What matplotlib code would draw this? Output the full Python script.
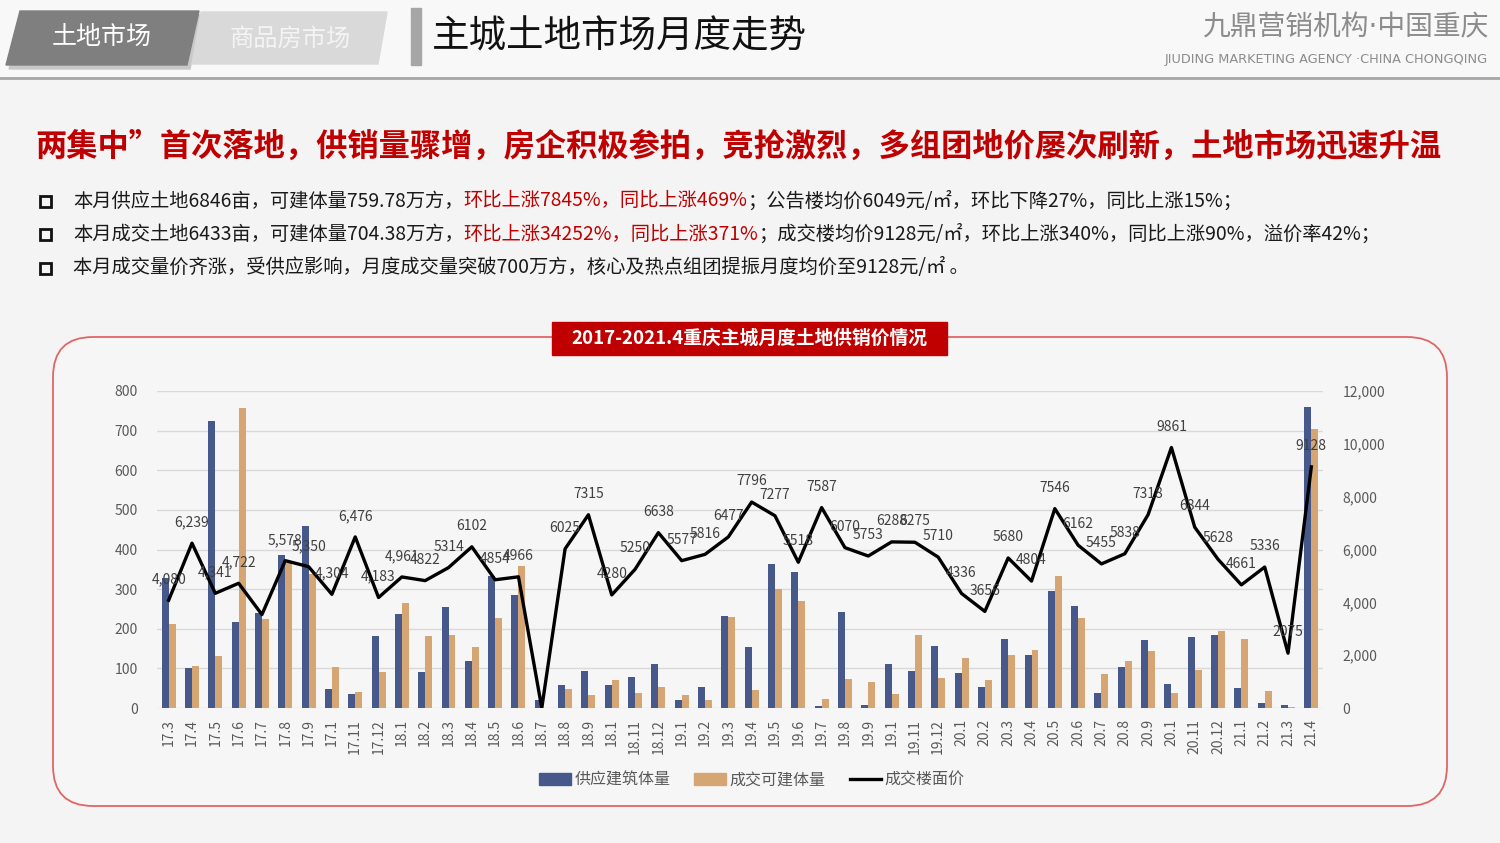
import matplotlib
matplotlib.use("Agg")
import matplotlib.pyplot as plt
from matplotlib.patches import Polygon, Rectangle, FancyBboxPatch
from matplotlib.lines import Line2D
from matplotlib.ticker import FuncFormatter, MultipleLocator

plt.rcParams['font.family'] = ['Noto Sans CJK SC', 'DejaVu Sans']

# dados
meses = ["17.3", "17.4", "17.5", "17.6", "17.7", "17.8", "17.9", "17.1", "17.11", "17.12",
         "18.1", "18.2", "18.3", "18.4", "18.5", "18.6", "18.7", "18.8", "18.9", "18.1", "18.11", "18.12",
         "19.1", "19.2", "19.3", "19.4", "19.5", "19.6", "19.7", "19.8", "19.9", "19.1", "19.11", "19.12",
         "20.1", "20.2", "20.3", "20.4", "20.5", "20.6", "20.7", "20.8", "20.9", "20.1", "20.11", "20.12",
         "21.1", "21.2", "21.3", "21.4"]

oferta = [328, 101, 724, 216, 240, 385, 459, 48, 36, 181,
          237, 92, 255, 118, 333, 286, 21, 59, 94, 59, 77, 112,
          19, 52, 233, 153, 364, 343, 4, 242, 8, 112, 94, 156,
          88, 52, 174, 133, 296, 257, 38, 103, 171, 61, 179, 183,
          51, 12, 8, 760]

vendido = [213, 107, 131, 758, 225, 366, 337, 104, 40, 92,
           265, 181, 184, 154, 226, 358, 0, 48, 32, 70, 38, 52,
           32, 21, 230, 45, 301, 269, 23, 73, 65, 36, 183, 76,
           126, 70, 135, 147, 333, 227, 86, 118, 145, 38, 97, 195,
           174, 44, 3, 704]

preco = [4080, 6239, 4341, 4722, 3537, 5578, 5350, 4304, 6476, 4183,
         4961, 4822, 5314, 6102, 4854, 4966, 0, 6025, 7315, 4280, 5250, 6638,
         5577, 5816, 6477, 7796, 7277, 5518, 7587, 6070, 5753, 6288, 6275, 5710,
         4336, 3656, 5680, 4804, 7546, 6162, 5455, 5838, 7318, 9861, 6844, 5628,
         4661, 5336, 2075, 9128]

rotulos = ["4,080", "6,239", "4,341", "4,722", "", "5,578", "5,350", "4,304", "6,476", "4,183",
           "4,961", "4822", "5314", "6102", "4854", "4966", "", "6025", "7315", "4280", "5250", "6638",
           "5577", "5816", "6477", "7796", "7277", "5518", "7587", "6070", "5753", "6288", "6275", "5710",
           "4336", "3656", "5680", "4804", "7546", "6162", "5455", "5838", "7318", "9861", "6844", "5628",
           "4661", "5336", "2075", "9128"]

linhas_texto = [
    [("本月供应土地6846亩，可建体量759.78万方，", "#1a1a1a"),
     ("环比上涨7845%，同比上涨469%", "#c00000"),
     ("；公告楼均价6049元/㎡，环比下降27%，同比上涨15%；", "#1a1a1a")],
    [("本月成交土地6433亩，可建体量704.38万方，", "#1a1a1a"),
     ("环比上涨34252%，同比上涨371%", "#c00000"),
     ("；成交楼均价9128元/㎡，环比上涨340%，同比上涨90%，溢价率42%；", "#1a1a1a")],
    [("本月成交量价齐涨，受供应影响，月度成交量突破700万方，核心及热点组团提振月度均价至9128元/㎡ 。", "#1a1a1a")],
]

azul = "#46598a"
bege = "#d5a574"
fundo = "#f4f4f4"

fig = plt.figure(figsize=(15, 8.43), dpi=100, facecolor=fundo)

# camada de fundo em pixels
bg = fig.add_axes([0, 0, 1, 1])
bg.set_xlim(0, 1500)
bg.set_ylim(843, 0)
bg.axis("off")

bg.add_patch(Rectangle((0, 0), 1500, 78, color="#f8f8f8", zorder=0))
bg.plot([0, 1500], [78, 78], color="#a6a6a6", lw=2)

# abas do cabeçalho
bg.add_patch(Polygon([(23, 15), (202, 15), (190, 69), (9, 69)], color="#c8c8c8", zorder=1))
bg.add_patch(Polygon([(20, 11), (199, 11), (187, 65), (6, 65)], color="#7f7f7f", zorder=2))
bg.add_patch(Polygon([(201, 12), (387, 12), (378, 64), (192, 64)], color="#d9d9d9", zorder=1))
bg.text(102, 37, "土地市场", fontsize=18, color="white", ha="center", va="center", zorder=3)
bg.text(290, 39, "商品房市场", fontsize=17.5, color="#f4f4f4", ha="center", va="center", zorder=3)
bg.add_patch(Rectangle((411, 8), 10, 57, color="#a6a6a6"))
bg.text(432, 37, "主城土地市场月度走势", fontsize=27, color="#111111", ha="left", va="center")

bg.text(1488, 27, "九鼎营销机构·中国重庆", fontsize=20, color="#8c8c8c", ha="right", va="center",
        family=["DejaVu Sans", "Noto Sans CJK SC"])
bg.text(1488, 60, "JIUDING MARKETING AGENCY ·CHINA CHONGQING", fontsize=9.3, color="#8c8c8c",
        ha="right", va="center", family=["DejaVu Sans"])

# manchete
bg.text(35, 147, "两集中”首次落地，供销量骤增，房企积极参拍，竞抢激烈，多组团地价屡次刷新，土地市场迅速升温",
        fontsize=22.5, color="#c00000", fontweight="bold", ha="left", va="center")

# linhas com marcadores
renderer = fig.canvas.get_renderer()
for i, partes in enumerate(linhas_texto):
    y = 201 + i * 33.5
    bg.add_patch(Rectangle((40, y - 5.5), 11, 11, fill=False, edgecolor="#111111", lw=2))
    x = 73
    for texto, cor in partes:
        t = bg.text(x, y, texto, fontsize=13.9, color=cor, ha="left", va="center")
        x += t.get_window_extent(renderer).width

# painel do gráfico
bg.add_patch(FancyBboxPatch((53, 337), 1394, 469, boxstyle="round,pad=0,rounding_size=40",
                            facecolor="#f6f6f6", edgecolor="#e06666", lw=1.3))
bg.add_patch(Rectangle((552, 322), 395, 33, color="#c00000"))
bg.text(749.5, 338, "2017-2021.4重庆主城月度土地供销价情况", fontsize=13.5, color="white",
        fontweight="bold", ha="center", va="center")

ax = fig.add_axes([157 / 1500, 1 - 708 / 843, (1323 - 157) / 1500, (708 - 391) / 843])
ax.patch.set_visible(False)
x = list(range(len(meses)))
largura = 0.3
ax.bar([i - largura / 2 for i in x], oferta, width=largura, color=azul, label="供应建筑体量", zorder=2)
ax.bar([i + largura / 2 for i in x], vendido, width=largura, color=bege, label="成交可建体量", zorder=2)
ax.set_xlim(-0.5, len(meses) - 0.5)
ax.set_ylim(0, 800)
ax.yaxis.set_major_locator(MultipleLocator(100))
ax.grid(axis="y", color="#d9d9d9", lw=1)
ax.set_axisbelow(True)
ax.set_xticks(x)
ax.set_xticklabels(meses, rotation=90, fontsize=10, color="#595959")
ax.tick_params(axis="both", length=0, labelsize=10, labelcolor="#595959")
ax.tick_params(axis="y", pad=14)
ax.tick_params(axis="x", pad=8)
for s in ax.spines.values():
    s.set_visible(False)

ax2 = ax.twinx()
ax2.plot(x, preco, color="black", lw=2.4, label="成交楼面价", zorder=3)
ax2.set_ylim(0, 12000)
ax2.yaxis.set_major_locator(MultipleLocator(2000))
ax2.yaxis.set_major_formatter(FuncFormatter(lambda v, p: f"{int(v):,}"))
ax2.tick_params(axis="y", length=0, labelsize=10, labelcolor="#595959", pad=14)
for s in ax2.spines.values():
    s.set_visible(False)
for i, v in enumerate(preco):
    if rotulos[i]:
        ax2.annotate(rotulos[i], (i, v), xytext=(0, 15), textcoords="offset points",
                     ha="center", va="center", fontsize=10, color="#404040")

handles = [Rectangle((0, 0), 1, 1, color=azul), Rectangle((0, 0), 1, 1, color=bege),
           Line2D([0], [0], color="black", lw=2.4)]
fig.legend(handles, ["供应建筑体量", "成交可建体量", "成交楼面价"], loc="center",
           bbox_to_anchor=(752 / 1500, 1 - 780 / 843), ncol=3, frameon=False, fontsize=11.5,
           labelcolor="#595959", handlelength=2.0, handletextpad=0.2, columnspacing=1.5)

plt.savefig("out.png", dpi=100, facecolor=fundo)
plt.close()
